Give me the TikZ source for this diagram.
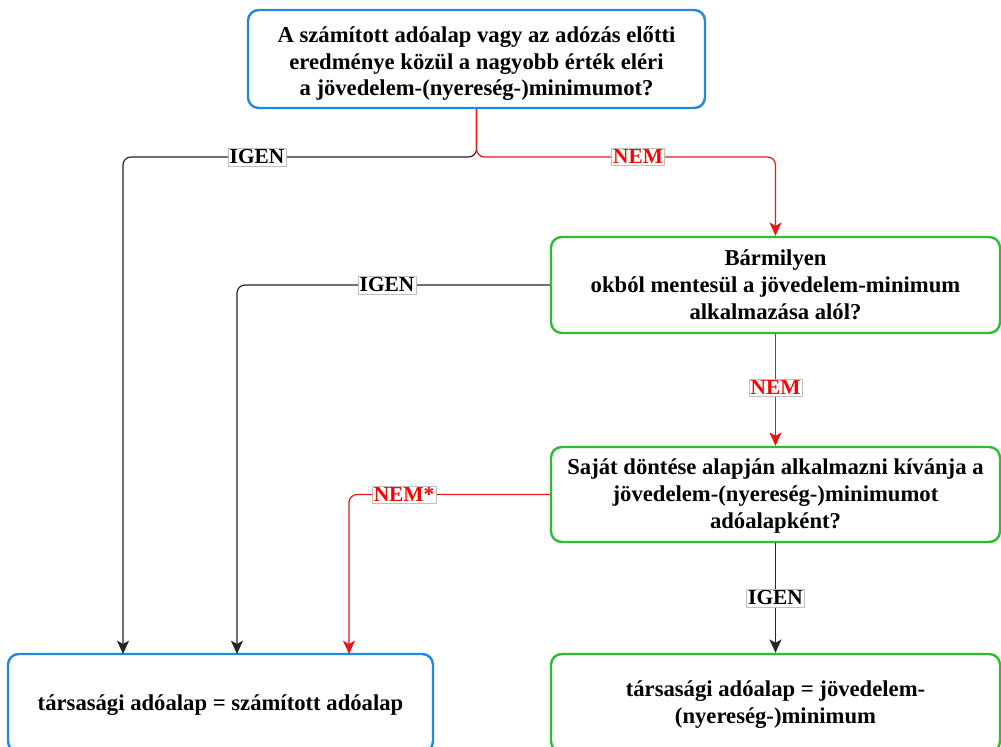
\documentclass[tikz,border=0pt]{standalone}
\usepackage{fontspec}
\setmainfont{Liberation Serif}
\usetikzlibrary{arrows.meta}
\definecolor{boxblue}{HTML}{1E88E5}
\definecolor{boxgreen}{HTML}{2DBE2D}
\definecolor{edgered}{HTML}{E8151B}
\definecolor{edgeblack}{HTML}{262626}
\newcommand\mybt[2]{\raisebox{-#1}[\height][\depth]{\begin{tabular}{@{}c@{}}#2\end{tabular}}}
\begin{document}
\begin{tikzpicture}[x=0.75pt,y=-0.75pt,
  box/.style={draw, line width=1.8pt, rounded corners=8pt,
    font=\fontsize{17}{20.2}\selectfont\bfseries, inner sep=0pt, fill=white},
  bluebox/.style={box, draw=boxblue},
  greenbox/.style={box, draw=boxgreen},
  conn/.style={line width=0.9pt, rounded corners=6pt,
    -{Stealth[length=10pt,width=9pt,inset=2.5pt]}},
  yesconn/.style={conn, draw=edgeblack},
  noconn/.style={conn, draw=edgered},
  lbl/.style={fill=white, draw=black!25, line width=0.4pt, inner sep=1.2pt,
    font=\fontsize{16}{17}\selectfont\bfseries},
  yeslbl/.style={lbl, text=black},
  nolbl/.style={lbl, text=red}]
\clip (0,0) rectangle (1001,747);
\fill[white] (0,0) rectangle (1001,747);

\node[bluebox, minimum width=457*0.75pt, minimum height=98*0.75pt] (q1) at (476.5,59)
  {\mybt{3.5pt}{A számított adóalap vagy az adózás előtti\\eredménye közül a nagyobb érték eléri\\a jövedelem-(nyereség-)minimumot?}};
\node[greenbox, minimum width=449*0.75pt, minimum height=96*0.75pt] (q2) at (775.5,285)
  {\mybt{1.5pt}{Bármilyen\\okból mentesül a jövedelem-minimum\\alkalmazása alól?}};
\node[greenbox, minimum width=449*0.75pt, minimum height=95*0.75pt] (q3) at (775.5,494.5)
  {\mybt{1.5pt}{Saját döntése alapján alkalmazni kívánja a\\jövedelem-(nyereség-)minimumot\\adóalapként?}};
\node[bluebox, minimum width=425*0.75pt, minimum height=98*0.75pt] (r1) at (220.5,703)
  {\mybt{1.5pt}{társasági adóalap = számított adóalap}};
\node[greenbox, minimum width=449*0.75pt, minimum height=98*0.75pt] (r2) at (775.5,703)
  {\mybt{1.5pt}{társasági adóalap = jövedelem-\\(nyereség-)minimum}};

\coordinate (r1a) at (123,654);
\coordinate (r1b) at (237,654);
\coordinate (r1c) at (349,654);

\draw[yesconn] (q1.south) -- (476.5,157) -- (123,157) -- (r1a);
\draw[noconn] (q1.south) -- (476.5,157) -- (775.5,157) -- (q2.north);
\draw[yesconn] (q2.west) -- (237,285) -- (r1b);
\draw[noconn] (q2.south) -- (q3.north);
\draw[noconn] (q3.west) -- (349,494.5) -- (r1c);
\draw[yesconn] (q3.south) -- (r2.north);

\node[yeslbl] (l1) at (257,157) {IGEN};
\node[nolbl] (l2) at (638,157) {NEM};
\node[yeslbl] (l3) at (387,285) {IGEN};
\node[nolbl] (l4) at (775.5,388) {NEM};
\node[nolbl] (l5) at (404,494.5) {NEM*};
\node[yeslbl] (l6) at (775.5,598) {IGEN};
\end{tikzpicture}
\end{document}
